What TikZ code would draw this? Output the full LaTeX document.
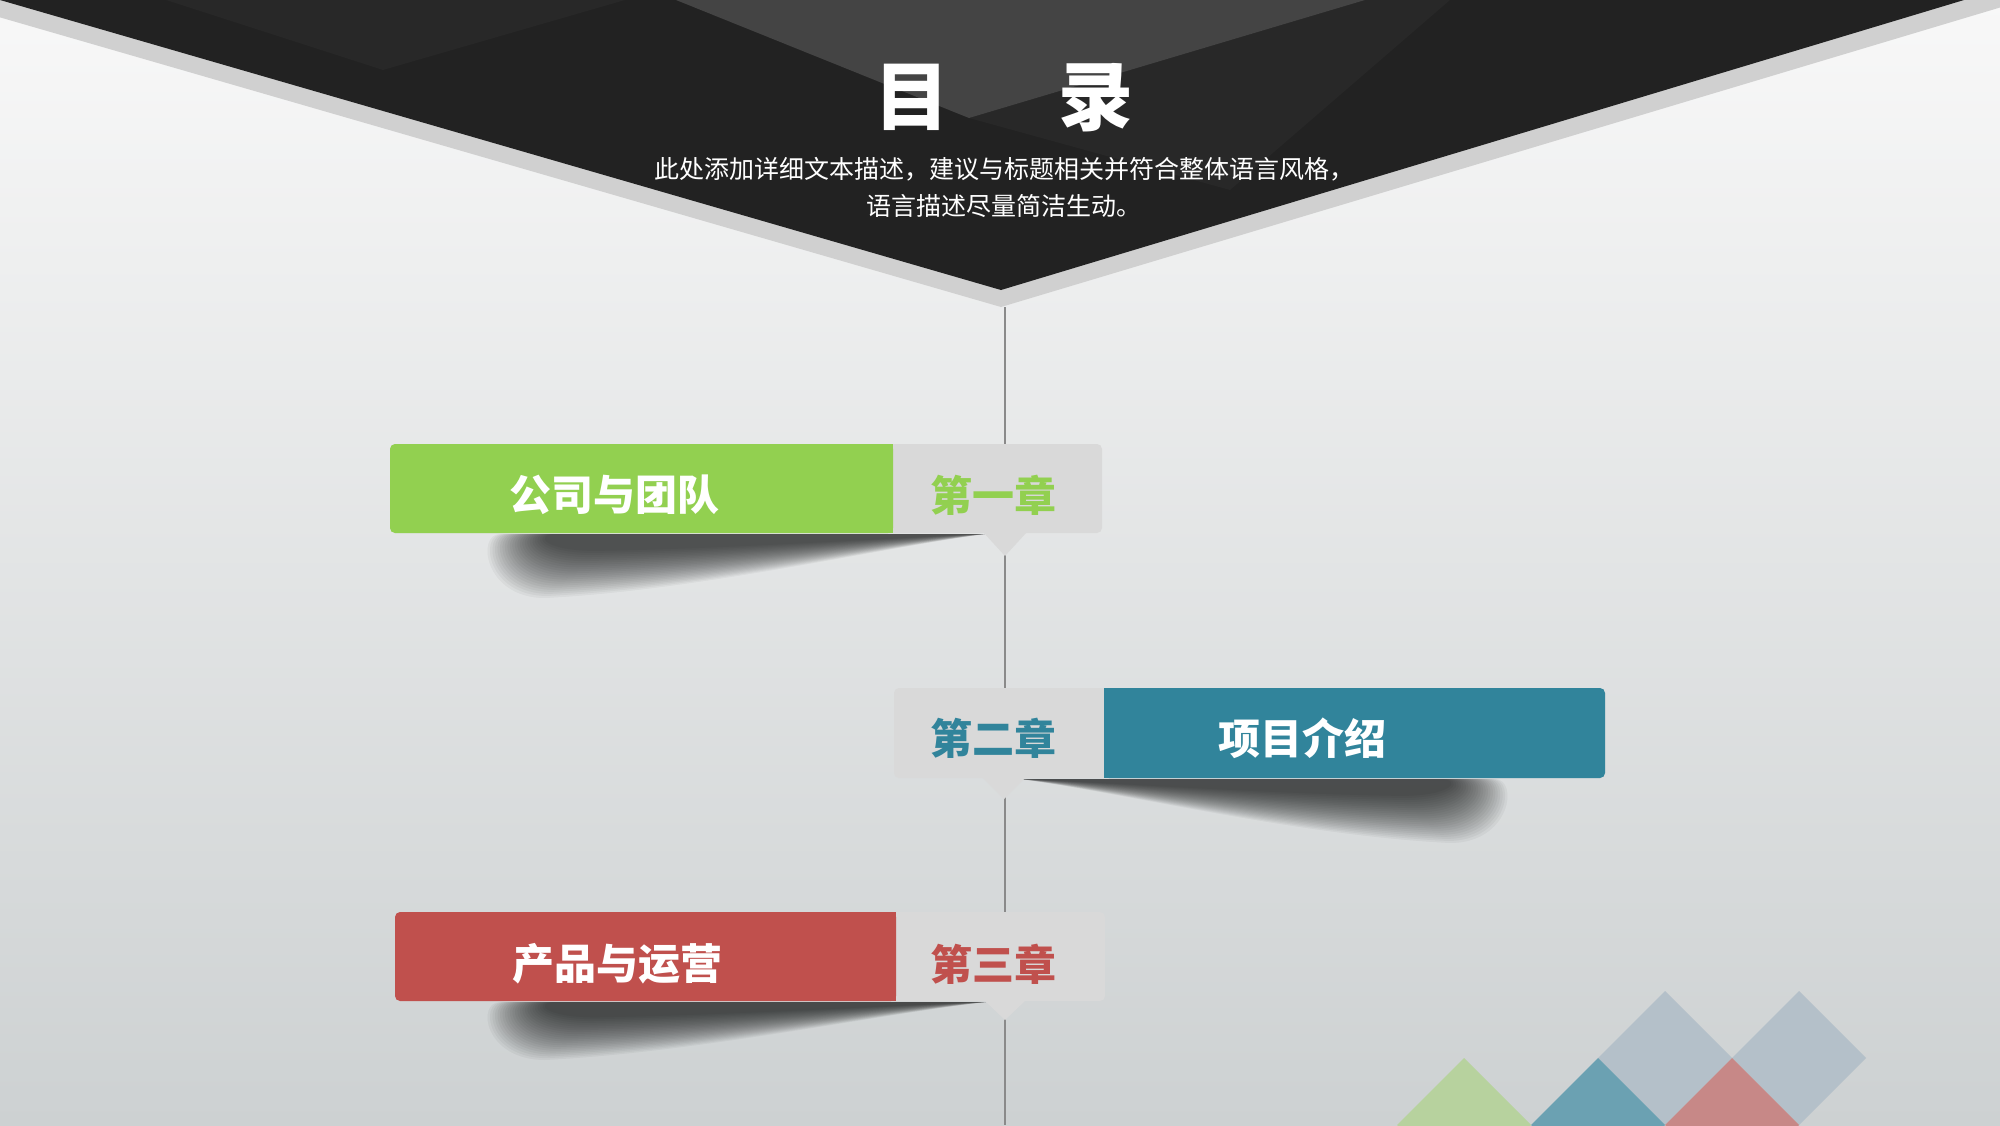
\documentclass[tikz,border=0pt]{standalone}
\usepackage{fontspec}
\newfontfamily\cjk{Noto Sans CJK SC}
\definecolor{bgtop}{HTML}{F8F8F8}
\definecolor{bgbot}{HTML}{CDD1D2}
\definecolor{hdrdark}{HTML}{222222}
\definecolor{hdrband}{HTML}{D0D0D0}
\definecolor{facetlight}{HTML}{444444}
\definecolor{facetmid}{HTML}{282828}
\definecolor{cgreen}{HTML}{92D050}
\definecolor{cteal}{HTML}{31849B}
\definecolor{cred}{HTML}{C0504D}
\definecolor{cgrey}{HTML}{D9D9D9}
\definecolor{dgreen}{HTML}{B7D29E}
\definecolor{dteal}{HTML}{6BA1B2}
\definecolor{dred}{HTML}{C78887}
\definecolor{dgrey}{HTML}{B4C0C9}
\definecolor{vline}{HTML}{8A8A8A}
\newcommand\cardshadow[3]{%
  \foreach \k in {0,...,23}{%
    \pgfmathsetmacro\sy{1-0.032*\k}%
    \pgfmathsetmacro\sx{1-0.005*\k}%
    \fill[black,opacity=0.038,shift={(#1,#2)},xscale=\sx,yscale=\sy,shift={(-#1,-#2)}] #3;}}
\begin{document}
\begin{tikzpicture}[x=1pt,y=-1pt,
  heading/.style={text=white,font=\cjk\bfseries\fontsize{75}{80}\selectfont,inner sep=0},
  subtext/.style={text=white,font=\cjk\fontsize{25}{37}\selectfont,align=center,inner sep=0},
  cardtext/.style={font=\cjk\bfseries\fontsize{42}{48}\selectfont,inner sep=0},
  axis/.style={draw=vline,line width=2pt},
]
\useasboundingbox (0,0) rectangle (2000,1125);
\clip (0,0) rectangle (2000,1125);
\shade[top color=bgtop,bottom color=bgbot] (0,0) rectangle (2000,1125);

% header
\fill[hdrband] (-60,0) -- (1001,307) -- (2025,0) -- cycle;
\begin{scope}
  \clip (0,0) -- (1001,290) -- (1964,0) -- cycle;
  \fill[hdrdark] (-10,-10) rectangle (2010,300);
  \fill[facetmid] (166,0) -- (625,0) -- (383,70) -- cycle;
  \fill[facetmid] (969,118) -- (1365,0) -- (1450,0) -- (1230,190) -- cycle;
  \fill[facetlight] (676,0) -- (969,118) -- (1365,0) -- cycle;
\end{scope}

\node[heading] (ttl) at (1004,98) {目\hspace{109pt}录};
\node[subtext] (sub) at (1004,187) {此处添加详细文本描述，建议与标题相关并符合整体语言风格，\\语言描述尽量简洁生动。};

% axis
\coordinate (axtop) at (1005,307);
\coordinate (axbot) at (1005,1125);
\draw[axis] (axtop) -- (axbot);

% shadows
\cardshadow{985}{534}{(985,534) -- (500,534) .. controls (476,534) and (484,598) .. (545,598) .. controls (700,590) and (880,548) .. (985,534) -- cycle}
\cardshadow{1020}{779}{(1020,779) -- (1495,779) .. controls (1519,779) and (1511,843) .. (1450,843) .. controls (1295,835) and (1125,793) .. (1020,779) -- cycle}
\cardshadow{986}{1002}{(986,1002) -- (500,1002) .. controls (476,1002) and (484,1060) .. (545,1060) .. controls (700,1052) and (880,1014) .. (986,1002) -- cycle}

% card 1
\fill[cgrey,rounded corners=5pt] (390,444) rectangle (1102,533);
\fill[cgreen,rounded corners=5pt] (390,444) rectangle (893,533);
\fill[cgreen] (878,444) rectangle (893,533);
\fill[cgrey] (983,532) -- (1027,532) -- (1005,556) -- cycle;
\node[cardtext,text=white] (t1) at (614,495) {公司与团队};
\node[cardtext,text=cgreen] (c1) at (993,495) {第一章};

% card 2
\fill[cgrey,rounded corners=5pt] (894,688) rectangle (1605,778);
\fill[cteal,rounded corners=5pt] (1104,688) rectangle (1605,778);
\fill[cteal] (1104,688) rectangle (1119,778);
\fill[cgrey] (982,777) -- (1026,777) -- (1004,799) -- cycle;
\node[cardtext,text=cteal] (c2) at (993,738) {第二章};
\node[cardtext,text=white] (t2) at (1302,738) {项目介绍};

% card 3
\fill[cgrey,rounded corners=5pt] (395,912) rectangle (1105,1001);
\fill[cred,rounded corners=5pt] (395,912) rectangle (896,1001);
\fill[cred] (881,912) rectangle (896,1001);
\fill[cgrey] (984,1000) -- (1026,1000) -- (1005,1020) -- cycle;
\node[cardtext,text=white] (t3) at (617,964) {产品与运营};
\node[cardtext,text=cred] (c3) at (993,964) {第三章};

% decorative diamonds
\fill[dgrey] (1665,991) -- (1732,1058) -- (1665,1125) -- (1598,1058) -- cycle;
\fill[dgrey] (1799,991) -- (1866,1058) -- (1799,1125) -- (1732,1058) -- cycle;
\fill[dgreen] (1464,1058) -- (1531,1125) -- (1464,1192) -- (1397,1125) -- cycle;
\fill[dteal] (1598,1058) -- (1665,1125) -- (1598,1192) -- (1531,1125) -- cycle;
\fill[dred] (1732,1058) -- (1799,1125) -- (1732,1192) -- (1665,1125) -- cycle;
\end{tikzpicture}
\end{document}
